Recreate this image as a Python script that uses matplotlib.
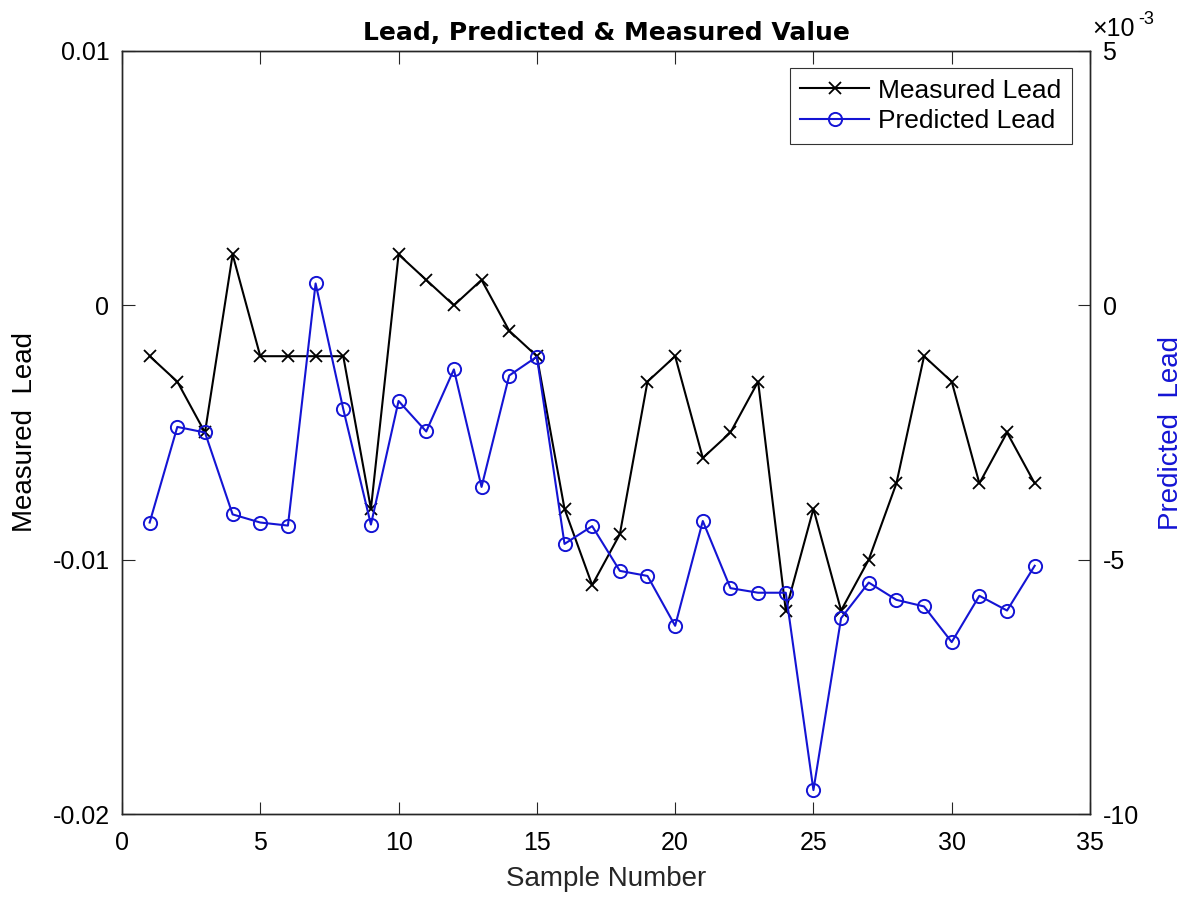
import matplotlib
matplotlib.use("Agg")
import matplotlib.pyplot as plt
from matplotlib.ticker import FuncFormatter, MultipleLocator

plt.rcParams['font.family'] = ['Liberation Sans', 'DejaVu Sans']

samples = list(range(1, 34))
measured = [-0.002, -0.003, -0.005, 0.002, -0.002, -0.002, -0.002, -0.002, -0.008, 0.002,
            0.001, 0.0, 0.001, -0.001, -0.002, -0.008, -0.011, -0.009, -0.003, -0.002,
            -0.006, -0.005, -0.003, -0.012, -0.008, -0.012, -0.010, -0.007, -0.002, -0.003,
            -0.007, -0.005, -0.007]
predicted = [-4.27e-3, -2.39e-3, -2.50e-3, -4.11e-3, -4.27e-3, -4.33e-3, 0.43e-3, -2.04e-3,
             -4.31e-3, -1.88e-3, -2.48e-3, -1.26e-3, -3.57e-3, -1.38e-3, -1.01e-3, -4.69e-3,
             -4.34e-3, -5.22e-3, -5.32e-3, -6.30e-3, -4.24e-3, -5.56e-3, -5.65e-3, -5.65e-3,
             -9.53e-3, -6.15e-3, -5.45e-3, -5.79e-3, -5.92e-3, -6.62e-3, -5.71e-3, -6.00e-3,
             -5.12e-3]

BLUE = '#1414d4'
AXC = '#262626'

fig = plt.figure(figsize=(11.93, 9.0), dpi=100)
L, R, T, B = 122, 1090, 51, 814
ax = fig.add_axes([L/1193, (900-B)/900, (R-L)/1193, (B-T)/900])
ax2 = ax.twinx()

l1, = ax.plot(samples, measured, color='black', marker='x', markersize=9,
              markeredgewidth=1.3, linewidth=1.5, label='Measured Lead')
l2, = ax2.plot(samples, predicted, color=BLUE, marker='o', markersize=9.5,
               markerfacecolor='none', markeredgewidth=1.4, linewidth=1.5,
               label='Predicted Lead')

ax.set_xlim(0, 35)
ax.set_ylim(-0.02, 0.01)
ax.set_yticks([-0.02, -0.01, 0, 0.01])
ax.set_yticklabels(['-0.02', '-0.01', '0', '0.01'])
ax.xaxis.set_major_locator(MultipleLocator(5))
ax2.set_ylim(-10e-3, 5e-3)
ax2.set_yticks([-10e-3, -5e-3, 0, 5e-3])
ax2.yaxis.set_major_formatter(FuncFormatter(lambda v, p: f"{round(v*1000):d}"))

for a in (ax, ax2):
    a.tick_params(direction='in', length=9, width=0.8, labelsize=18, colors=AXC,
                  labelcolor='black', top=True)
    for s in a.spines.values():
        s.set_color(AXC)
        s.set_linewidth(1.0)
ax.tick_params(axis='x', pad=12)
ax.tick_params(axis='y', pad=9)
ax2.tick_params(axis='y', pad=9)

ax.set_xlabel('Sample Number', fontsize=20, color=AXC, labelpad=8)
ax.set_ylabel('Measured  Lead', fontsize=20, color='black', labelpad=10)
ax2.set_ylabel('Predicted  Lead', fontsize=20, color=BLUE, labelpad=14)
ax.set_title('Lead, Predicted & Measured Value', fontsize=18, fontweight='bold',
             family='DejaVu Sans', pad=8)

# exponent label of the right axis (x10^-3)
fig.text(1092/1193, 1 - 36/900, '\u00d710', fontsize=18, ha='left', va='baseline',
         color='black')
fig.text(1138/1193, 1 - 24/900, '-3', fontsize=13, ha='left', va='baseline',
         color='black')

leg = ax.legend(handles=[l1, l2], loc='upper right',
                bbox_to_anchor=((1072-L)/(R-L), (B-68)/(B-T)),
                fontsize=19, frameon=True, fancybox=False, edgecolor='black',
                handlelength=2.6, handletextpad=0.35, borderpad=0.4, labelspacing=0.25,
                borderaxespad=0)
leg.get_frame().set_linewidth(0.8)

fig.savefig('out.png', dpi=100)
